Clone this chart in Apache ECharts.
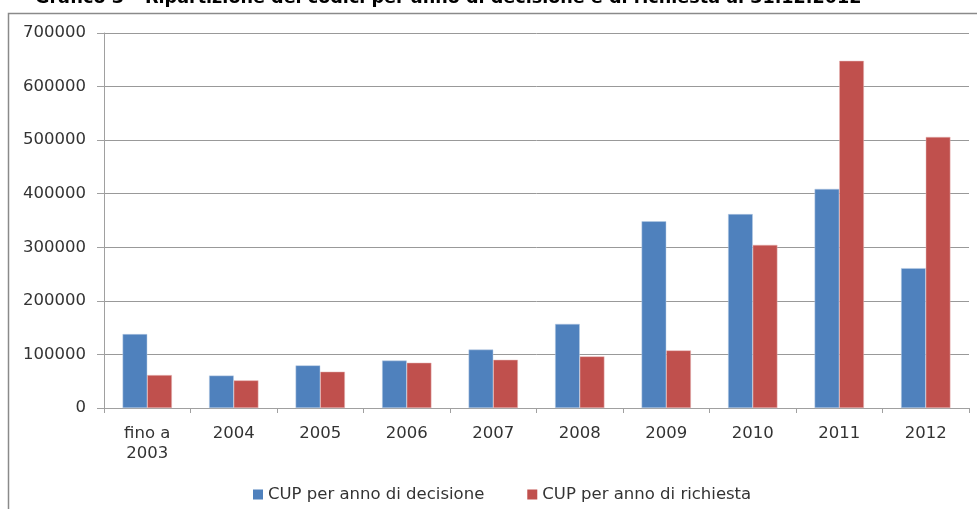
<!DOCTYPE html>
<html>
<head>
<meta charset="utf-8">
<script src="https://cdn.jsdelivr.net/npm/echarts@6/dist/echarts.min.js"></script>
<style>html,body{margin:0;padding:0;background:#fff}#c{width:977px;height:509px}</style>
</head>
<body>
<div id="c"></div>
<script>
var titleText = 'Grafico 3 – Ripartizione dei codici per anno di decisione e di richiesta al 31.12.2012';
var categories = ['fino a\n2003', '2004', '2005', '2006', '2007', '2008', '2009', '2010', '2011', '2012'];
var seriesNames = ['CUP per anno di decisione', 'CUP per anno di richiesta'];
var decisione = [138000, 60500, 79500, 88500, 109000, 157000, 348500, 362000, 409000, 261000];
var richiesta = [61500, 51500, 67800, 84500, 90000, 96300, 107500, 304500, 648000, 506000];
var yTicks = [0, 100000, 200000, 300000, 400000, 500000, 600000, 700000];

var chart = echarts.init(document.getElementById('c'), null, {renderer: 'canvas'});
var labelFont = {fontFamily: 'DejaVu Sans', fontSize: 16.5, color: '#333'};
chart.setOption({
  animation: false,
  backgroundColor: '#fff',
  title: {
    text: titleText,
    left: 30, top: -16,
    textStyle: {fontFamily: 'DejaVu Sans', fontWeight: 'bold', fontSize: 17.6, color: '#000'}
  },
  graphic: [{
    type: 'rect', silent: true, z: -1,
    shape: {x: 8.5, y: 13.5, width: 1000, height: 600},
    style: {fill: 'none', stroke: '#8a8a8a', lineWidth: 1.5}
  }],
  grid: {left: 104, right: 8, top: 33, height: 375, containLabel: false},
  legend: {
    data: seriesNames,
    left: 248, top: 481,
    itemWidth: 10, itemHeight: 10, itemGap: 43,
    icon: 'rect',
    itemStyle: {borderWidth: 0},
    textStyle: {fontFamily: 'DejaVu Sans', fontSize: 16.5, color: '#333'}
  },
  xAxis: {
    type: 'category',
    data: categories,
    axisLine: {lineStyle: {color: '#a0a0a0', width: 1}},
    axisTick: {show: true, length: 5, lineStyle: {color: '#a0a0a0'}},
    axisLabel: Object.assign({margin: 16, lineHeight: 20, interval: 0}, labelFont)
  },
  yAxis: {
    type: 'value',
    min: 0, max: 700000, interval: 100000,
    axisLine: {show: true, lineStyle: {color: '#a0a0a0'}},
    axisTick: {show: true, length: 7, lineStyle: {color: '#a0a0a0'}},
    splitLine: {lineStyle: {color: '#999', width: 1}},
    axisLabel: Object.assign({margin: 18, formatter: function (v) { return yTicks.indexOf(v) >= 0 ? String(v) : ''; }}, labelFont)
  },
  series: [
    {name: seriesNames[0], type: 'bar', data: decisione, barGap: '0%', barCategoryGap: '43%',
     itemStyle: {color: '#4f81bd', borderColor: '#b9cde5', borderWidth: 0.5}},
    {name: seriesNames[1], type: 'bar', data: richiesta, barGap: '0%', barCategoryGap: '43%',
     itemStyle: {color: '#c0504d', borderColor: '#e6b9b8', borderWidth: 0.5}}
  ]
});
</script>
</body>
</html>
